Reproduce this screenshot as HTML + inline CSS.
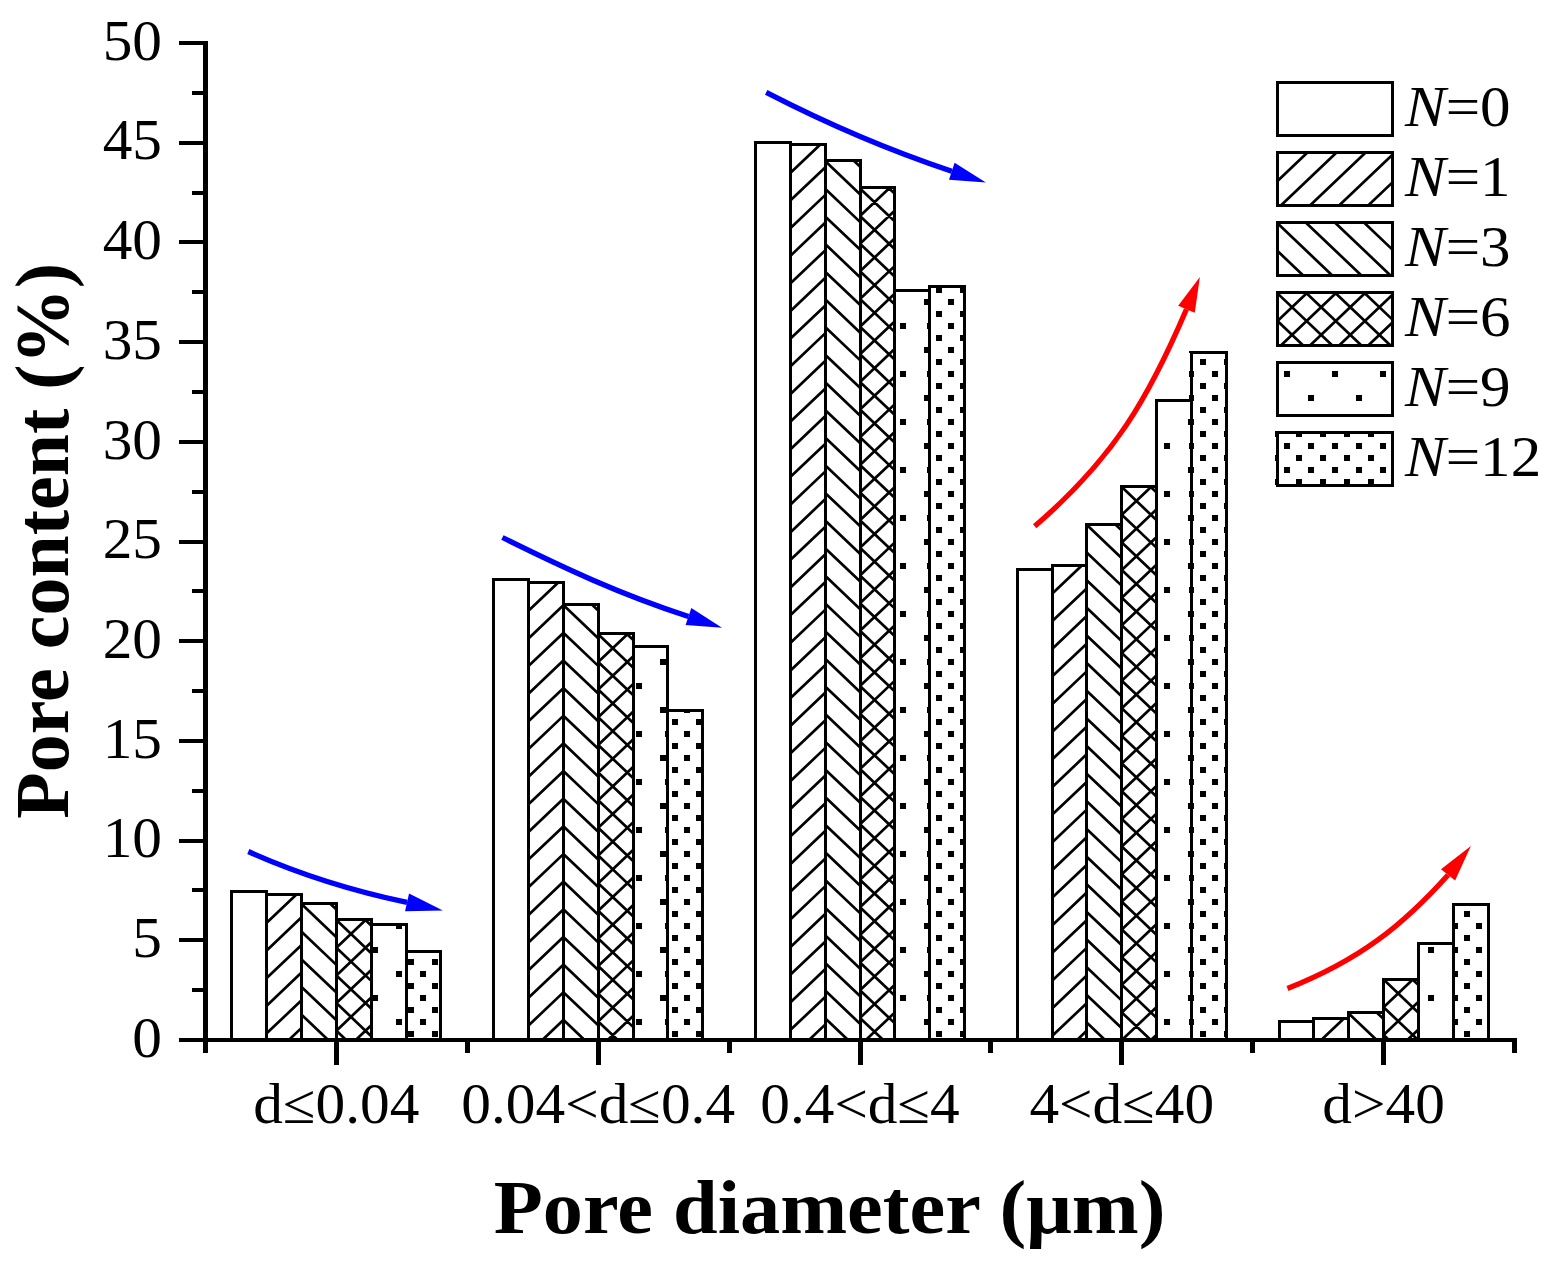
<!DOCTYPE html>
<html><head><meta charset="utf-8"><title>Pore content chart</title>
<style>html,body{margin:0;padding:0;background:#fff;}svg{display:block;}</style>
</head><body>
<svg width="1550" height="1267" viewBox="0 0 1550 1267" shape-rendering="auto">
<rect x="0" y="0" width="1550" height="1267" fill="#fff"/>
<rect x="231.85" y="891.5" width="34.85" height="148.5" fill="#fff"/>
<rect x="266.7" y="894.5" width="34.85" height="145.5" fill="#fff"/>
<path d="M266.7 895.1L267.33 894.5M266.7 922.75L296.44 894.5M266.7 950.4L301.55 917.29M266.7 978.05L301.55 944.94M266.7 1005.7L301.55 972.59M266.7 1033.35L301.55 1000.24M288.81 1040L301.55 1027.89" stroke="#000" stroke-width="2.7" fill="none"/>
<rect x="301.55" y="903.5" width="34.85" height="136.5" fill="#fff"/>
<path d="M330.02 903.5L336.4 909.56M301.55 904.1L336.4 937.21M301.55 931.75L336.4 964.86M301.55 959.4L336.4 992.51M301.55 987.05L336.4 1020.16M301.55 1014.7L328.18 1040" stroke="#000" stroke-width="2.7" fill="none"/>
<rect x="336.4" y="919.5" width="34.85" height="120.5" fill="#fff"/>
<path d="M336.4 920.1L337.03 919.5M336.4 947.75L366.14 919.5M336.4 975.4L371.25 942.29M336.4 1003.05L371.25 969.94M336.4 1030.7L371.25 997.59M355.72 1040L371.25 1025.24M364.87 919.5L371.25 925.56M336.4 920.1L371.25 953.21M336.4 947.75L371.25 980.86M336.4 975.4L371.25 1008.51M336.4 1003.05L371.25 1036.16M336.4 1030.7L346.19 1040" stroke="#000" stroke-width="2.7" fill="none"/>
<rect x="371.25" y="924.5" width="34.85" height="115.5" fill="#fff"/>
<rect x="406.1" y="951.5" width="34.85" height="88.5" fill="#fff"/>
<rect x="493.65" y="579.5" width="34.85" height="460.5" fill="#fff"/>
<rect x="528.5" y="582.5" width="34.85" height="457.5" fill="#fff"/>
<path d="M528.5 583.1L529.13 582.5M528.5 610.75L558.24 582.5M528.5 638.4L563.35 605.29M528.5 666.05L563.35 632.94M528.5 693.7L563.35 660.59M528.5 721.35L563.35 688.24M528.5 749L563.35 715.89M528.5 776.65L563.35 743.54M528.5 804.3L563.35 771.19M528.5 831.95L563.35 798.84M528.5 859.6L563.35 826.49M528.5 887.25L563.35 854.14M528.5 914.9L563.35 881.79M528.5 942.55L563.35 909.44M528.5 970.2L563.35 937.09M528.5 997.85L563.35 964.74M528.5 1025.5L563.35 992.39M542.34 1040L563.35 1020.04" stroke="#000" stroke-width="2.7" fill="none"/>
<rect x="563.35" y="604.5" width="34.85" height="435.5" fill="#fff"/>
<path d="M591.82 604.5L598.2 610.56M563.35 605.1L598.2 638.21M563.35 632.75L598.2 665.86M563.35 660.4L598.2 693.51M563.35 688.05L598.2 721.16M563.35 715.7L598.2 748.81M563.35 743.35L598.2 776.46M563.35 771L598.2 804.11M563.35 798.65L598.2 831.76M563.35 826.3L598.2 859.41M563.35 853.95L598.2 887.06M563.35 881.6L598.2 914.71M563.35 909.25L598.2 942.36M563.35 936.9L598.2 970.01M563.35 964.55L598.2 997.66M563.35 992.2L598.2 1025.31M563.35 1019.85L584.56 1040" stroke="#000" stroke-width="2.7" fill="none"/>
<rect x="598.2" y="633.7" width="34.85" height="406.3" fill="#fff"/>
<path d="M598.2 634.3L598.83 633.7M598.2 661.95L627.94 633.7M598.2 689.6L633.05 656.49M598.2 717.25L633.05 684.14M598.2 744.9L633.05 711.79M598.2 772.55L633.05 739.44M598.2 800.2L633.05 767.09M598.2 827.85L633.05 794.74M598.2 855.5L633.05 822.39M598.2 883.15L633.05 850.04M598.2 910.8L633.05 877.69M598.2 938.45L633.05 905.34M598.2 966.1L633.05 932.99M598.2 993.75L633.05 960.64M598.2 1021.4L633.05 988.29M607.73 1040L633.05 1015.94M626.67 633.7L633.05 639.76M598.2 634.3L633.05 667.41M598.2 661.95L633.05 695.06M598.2 689.6L633.05 722.71M598.2 717.25L633.05 750.36M598.2 744.9L633.05 778.01M598.2 772.55L633.05 805.66M598.2 800.2L633.05 833.31M598.2 827.85L633.05 860.96M598.2 855.5L633.05 888.61M598.2 883.15L633.05 916.26M598.2 910.8L633.05 943.91M598.2 938.45L633.05 971.56M598.2 966.1L633.05 999.21M598.2 993.75L633.05 1026.86M598.2 1021.4L617.78 1040" stroke="#000" stroke-width="2.7" fill="none"/>
<rect x="633.05" y="646.6" width="34.85" height="393.4" fill="#fff"/>
<rect x="667.9" y="710.5" width="34.85" height="329.5" fill="#fff"/>
<rect x="755.45" y="142.6" width="34.85" height="897.4" fill="#fff"/>
<rect x="790.3" y="144.7" width="34.85" height="895.3" fill="#fff"/>
<path d="M790.3 145.3L790.93 144.7M790.3 172.95L820.04 144.7M790.3 200.6L825.15 167.49M790.3 228.25L825.15 195.14M790.3 255.9L825.15 222.79M790.3 283.55L825.15 250.44M790.3 311.2L825.15 278.09M790.3 338.85L825.15 305.74M790.3 366.5L825.15 333.39M790.3 394.15L825.15 361.04M790.3 421.8L825.15 388.69M790.3 449.45L825.15 416.34M790.3 477.1L825.15 443.99M790.3 504.75L825.15 471.64M790.3 532.4L825.15 499.29M790.3 560.05L825.15 526.94M790.3 587.7L825.15 554.59M790.3 615.35L825.15 582.24M790.3 643L825.15 609.89M790.3 670.65L825.15 637.54M790.3 698.3L825.15 665.19M790.3 725.95L825.15 692.84M790.3 753.6L825.15 720.49M790.3 781.25L825.15 748.14M790.3 808.9L825.15 775.79M790.3 836.55L825.15 803.44M790.3 864.2L825.15 831.09M790.3 891.85L825.15 858.74M790.3 919.5L825.15 886.39M790.3 947.15L825.15 914.04M790.3 974.8L825.15 941.69M790.3 1002.45L825.15 969.34M790.3 1030.1L825.15 996.99M808.98 1040L825.15 1024.64" stroke="#000" stroke-width="2.7" fill="none"/>
<rect x="825.15" y="160.5" width="34.85" height="879.5" fill="#fff"/>
<path d="M853.62 160.5L860 166.56M825.15 161.1L860 194.21M825.15 188.75L860 221.86M825.15 216.4L860 249.51M825.15 244.05L860 277.16M825.15 271.7L860 304.81M825.15 299.35L860 332.46M825.15 327L860 360.11M825.15 354.65L860 387.76M825.15 382.3L860 415.41M825.15 409.95L860 443.06M825.15 437.6L860 470.71M825.15 465.25L860 498.36M825.15 492.9L860 526.01M825.15 520.55L860 553.66M825.15 548.2L860 581.31M825.15 575.85L860 608.96M825.15 603.5L860 636.61M825.15 631.15L860 664.26M825.15 658.8L860 691.91M825.15 686.45L860 719.56M825.15 714.1L860 747.21M825.15 741.75L860 774.86M825.15 769.4L860 802.51M825.15 797.05L860 830.16M825.15 824.7L860 857.81M825.15 852.35L860 885.46M825.15 880L860 913.11M825.15 907.65L860 940.76M825.15 935.3L860 968.41M825.15 962.95L860 996.06M825.15 990.6L860 1023.71M825.15 1018.25L848.04 1040" stroke="#000" stroke-width="2.7" fill="none"/>
<rect x="860" y="187.8" width="34.85" height="852.2" fill="#fff"/>
<path d="M860 188.4L860.63 187.8M860 216.05L889.74 187.8M860 243.7L894.85 210.59M860 271.35L894.85 238.24M860 299L894.85 265.89M860 326.65L894.85 293.54M860 354.3L894.85 321.19M860 381.95L894.85 348.84M860 409.6L894.85 376.49M860 437.25L894.85 404.14M860 464.9L894.85 431.79M860 492.55L894.85 459.44M860 520.2L894.85 487.09M860 547.85L894.85 514.74M860 575.5L894.85 542.39M860 603.15L894.85 570.04M860 630.8L894.85 597.69M860 658.45L894.85 625.34M860 686.1L894.85 652.99M860 713.75L894.85 680.64M860 741.4L894.85 708.29M860 769.05L894.85 735.94M860 796.7L894.85 763.59M860 824.35L894.85 791.24M860 852L894.85 818.89M860 879.65L894.85 846.54M860 907.3L894.85 874.19M860 934.95L894.85 901.84M860 962.6L894.85 929.49M860 990.25L894.85 957.14M860 1017.9L894.85 984.79M865.84 1040L894.85 1012.44M888.47 187.8L894.85 193.86M860 188.4L894.85 221.51M860 216.05L894.85 249.16M860 243.7L894.85 276.81M860 271.35L894.85 304.46M860 299L894.85 332.11M860 326.65L894.85 359.76M860 354.3L894.85 387.41M860 381.95L894.85 415.06M860 409.6L894.85 442.71M860 437.25L894.85 470.36M860 464.9L894.85 498.01M860 492.55L894.85 525.66M860 520.2L894.85 553.31M860 547.85L894.85 580.96M860 575.5L894.85 608.61M860 603.15L894.85 636.26M860 630.8L894.85 663.91M860 658.45L894.85 691.56M860 686.1L894.85 719.21M860 713.75L894.85 746.86M860 741.4L894.85 774.51M860 769.05L894.85 802.16M860 796.7L894.85 829.81M860 824.35L894.85 857.46M860 852L894.85 885.11M860 879.65L894.85 912.76M860 907.3L894.85 940.41M860 934.95L894.85 968.06M860 962.6L894.85 995.71M860 990.25L894.85 1023.36M860 1017.9L883.26 1040" stroke="#000" stroke-width="2.7" fill="none"/>
<rect x="894.85" y="290.5" width="34.85" height="749.5" fill="#fff"/>
<rect x="929.7" y="286.8" width="34.85" height="753.2" fill="#fff"/>
<rect x="1017.25" y="569.5" width="34.85" height="470.5" fill="#fff"/>
<rect x="1052.1" y="565.4" width="34.85" height="474.6" fill="#fff"/>
<path d="M1052.1 566L1052.73 565.4M1052.1 593.65L1081.84 565.4M1052.1 621.3L1086.95 588.19M1052.1 648.95L1086.95 615.84M1052.1 676.6L1086.95 643.49M1052.1 704.25L1086.95 671.14M1052.1 731.9L1086.95 698.79M1052.1 759.55L1086.95 726.44M1052.1 787.2L1086.95 754.09M1052.1 814.85L1086.95 781.74M1052.1 842.5L1086.95 809.39M1052.1 870.15L1086.95 837.04M1052.1 897.8L1086.95 864.69M1052.1 925.45L1086.95 892.34M1052.1 953.1L1086.95 919.99M1052.1 980.75L1086.95 947.64M1052.1 1008.4L1086.95 975.29M1052.1 1036.05L1086.95 1002.94M1077.05 1040L1086.95 1030.59" stroke="#000" stroke-width="2.7" fill="none"/>
<rect x="1086.95" y="524.5" width="34.85" height="515.5" fill="#fff"/>
<path d="M1115.42 524.5L1121.8 530.56M1086.95 525.1L1121.8 558.21M1086.95 552.75L1121.8 585.86M1086.95 580.4L1121.8 613.51M1086.95 608.05L1121.8 641.16M1086.95 635.7L1121.8 668.81M1086.95 663.35L1121.8 696.46M1086.95 691L1121.8 724.11M1086.95 718.65L1121.8 751.76M1086.95 746.3L1121.8 779.41M1086.95 773.95L1121.8 807.06M1086.95 801.6L1121.8 834.71M1086.95 829.25L1121.8 862.36M1086.95 856.9L1121.8 890.01M1086.95 884.55L1121.8 917.66M1086.95 912.2L1121.8 945.31M1086.95 939.85L1121.8 972.96M1086.95 967.5L1121.8 1000.61M1086.95 995.15L1121.8 1028.26M1086.95 1022.8L1105.06 1040" stroke="#000" stroke-width="2.7" fill="none"/>
<rect x="1121.8" y="486.5" width="34.85" height="553.5" fill="#fff"/>
<path d="M1121.8 487.1L1122.43 486.5M1121.8 514.75L1151.54 486.5M1121.8 542.4L1156.65 509.29M1121.8 570.05L1156.65 536.94M1121.8 597.7L1156.65 564.59M1121.8 625.35L1156.65 592.24M1121.8 653L1156.65 619.89M1121.8 680.65L1156.65 647.54M1121.8 708.3L1156.65 675.19M1121.8 735.95L1156.65 702.84M1121.8 763.6L1156.65 730.49M1121.8 791.25L1156.65 758.14M1121.8 818.9L1156.65 785.79M1121.8 846.55L1156.65 813.44M1121.8 874.2L1156.65 841.09M1121.8 901.85L1156.65 868.74M1121.8 929.5L1156.65 896.39M1121.8 957.15L1156.65 924.04M1121.8 984.8L1156.65 951.69M1121.8 1012.45L1156.65 979.34M1121.91 1040L1156.65 1006.99M1151.01 1040L1156.65 1034.64M1150.27 486.5L1156.65 492.56M1121.8 487.1L1156.65 520.21M1121.8 514.75L1156.65 547.86M1121.8 542.4L1156.65 575.51M1121.8 570.05L1156.65 603.16M1121.8 597.7L1156.65 630.81M1121.8 625.35L1156.65 658.46M1121.8 653L1156.65 686.11M1121.8 680.65L1156.65 713.76M1121.8 708.3L1156.65 741.41M1121.8 735.95L1156.65 769.06M1121.8 763.6L1156.65 796.71M1121.8 791.25L1156.65 824.36M1121.8 818.9L1156.65 852.01M1121.8 846.55L1156.65 879.66M1121.8 874.2L1156.65 907.31M1121.8 901.85L1156.65 934.96M1121.8 929.5L1156.65 962.61M1121.8 957.15L1156.65 990.26M1121.8 984.8L1156.65 1017.91M1121.8 1012.45L1150.8 1040" stroke="#000" stroke-width="2.7" fill="none"/>
<rect x="1156.65" y="400.6" width="34.85" height="639.4" fill="#fff"/>
<rect x="1191.5" y="352.6" width="34.85" height="687.4" fill="#fff"/>
<rect x="1279.05" y="1021" width="34.85" height="19" fill="#fff"/>
<rect x="1313.9" y="1018.7" width="34.85" height="21.3" fill="#fff"/>
<path d="M1313.9 1019.3L1314.53 1018.7M1321.22 1040L1343.64 1018.7" stroke="#000" stroke-width="2.7" fill="none"/>
<rect x="1348.75" y="1012.9" width="34.85" height="27.1" fill="#fff"/>
<path d="M1377.22 1012.9L1383.6 1018.96M1348.75 1013.5L1376.64 1040" stroke="#000" stroke-width="2.7" fill="none"/>
<rect x="1383.6" y="979" width="34.85" height="61" fill="#fff"/>
<path d="M1383.6 979.6L1384.23 979M1383.6 1007.25L1413.34 979M1383.6 1034.9L1418.45 1001.79M1407.34 1040L1418.45 1029.44M1412.07 979L1418.45 985.06M1383.6 979.6L1418.45 1012.71M1383.6 1007.25L1418.07 1040M1383.6 1034.9L1388.97 1040" stroke="#000" stroke-width="2.7" fill="none"/>
<rect x="1418.45" y="943.7" width="34.85" height="96.3" fill="#fff"/>
<rect x="1453.3" y="904.6" width="34.85" height="135.4" fill="#fff"/>
<g shape-rendering="crispEdges">
<rect x="231.85" y="891.5" width="34.85" height="148.5" fill="none" stroke="#000" stroke-width="3"/>
<rect x="266.7" y="894.5" width="34.85" height="145.5" fill="none" stroke="#000" stroke-width="3"/>
<rect x="301.55" y="903.5" width="34.85" height="136.5" fill="none" stroke="#000" stroke-width="3"/>
<rect x="336.4" y="919.5" width="34.85" height="120.5" fill="none" stroke="#000" stroke-width="3"/>
<rect x="371.25" y="924.5" width="34.85" height="115.5" fill="none" stroke="#000" stroke-width="3"/>
<rect x="406.1" y="951.5" width="34.85" height="88.5" fill="none" stroke="#000" stroke-width="3"/>
<rect x="493.65" y="579.5" width="34.85" height="460.5" fill="none" stroke="#000" stroke-width="3"/>
<rect x="528.5" y="582.5" width="34.85" height="457.5" fill="none" stroke="#000" stroke-width="3"/>
<rect x="563.35" y="604.5" width="34.85" height="435.5" fill="none" stroke="#000" stroke-width="3"/>
<rect x="598.2" y="633.7" width="34.85" height="406.3" fill="none" stroke="#000" stroke-width="3"/>
<rect x="633.05" y="646.6" width="34.85" height="393.4" fill="none" stroke="#000" stroke-width="3"/>
<rect x="667.9" y="710.5" width="34.85" height="329.5" fill="none" stroke="#000" stroke-width="3"/>
<rect x="755.45" y="142.6" width="34.85" height="897.4" fill="none" stroke="#000" stroke-width="3"/>
<rect x="790.3" y="144.7" width="34.85" height="895.3" fill="none" stroke="#000" stroke-width="3"/>
<rect x="825.15" y="160.5" width="34.85" height="879.5" fill="none" stroke="#000" stroke-width="3"/>
<rect x="860" y="187.8" width="34.85" height="852.2" fill="none" stroke="#000" stroke-width="3"/>
<rect x="894.85" y="290.5" width="34.85" height="749.5" fill="none" stroke="#000" stroke-width="3"/>
<rect x="929.7" y="286.8" width="34.85" height="753.2" fill="none" stroke="#000" stroke-width="3"/>
<rect x="1017.25" y="569.5" width="34.85" height="470.5" fill="none" stroke="#000" stroke-width="3"/>
<rect x="1052.1" y="565.4" width="34.85" height="474.6" fill="none" stroke="#000" stroke-width="3"/>
<rect x="1086.95" y="524.5" width="34.85" height="515.5" fill="none" stroke="#000" stroke-width="3"/>
<rect x="1121.8" y="486.5" width="34.85" height="553.5" fill="none" stroke="#000" stroke-width="3"/>
<rect x="1156.65" y="400.6" width="34.85" height="639.4" fill="none" stroke="#000" stroke-width="3"/>
<rect x="1191.5" y="352.6" width="34.85" height="687.4" fill="none" stroke="#000" stroke-width="3"/>
<rect x="1279.05" y="1021" width="34.85" height="19" fill="none" stroke="#000" stroke-width="3"/>
<rect x="1313.9" y="1018.7" width="34.85" height="21.3" fill="none" stroke="#000" stroke-width="3"/>
<rect x="1348.75" y="1012.9" width="34.85" height="27.1" fill="none" stroke="#000" stroke-width="3"/>
<rect x="1383.6" y="979" width="34.85" height="61" fill="none" stroke="#000" stroke-width="3"/>
<rect x="1418.45" y="943.7" width="34.85" height="96.3" fill="none" stroke="#000" stroke-width="3"/>
<rect x="1453.3" y="904.6" width="34.85" height="135.4" fill="none" stroke="#000" stroke-width="3"/>
<path d="M395.97 923.4H401.97V929.4H395.97zM371.96 947.4H377.96V953.4H371.96zM395.97 971.4H401.97V977.4H395.97zM371.96 995.4H377.96V1001.4H371.96zM395.97 1019.4H401.97V1025.4H395.97z" fill="#000" shape-rendering="crispEdges"/>
<path d="M419.97 949.5H425.97V953.4H419.97zM407.97 959.4H413.97V965.4H407.97zM431.98 959.4H437.98V965.4H431.98zM419.97 971.4H425.97V977.4H419.97zM407.97 983.4H413.97V989.4H407.97zM431.98 983.4H437.98V989.4H431.98zM419.97 995.4H425.97V1001.4H419.97zM407.97 1007.4H413.97V1013.4H407.97zM431.98 1007.4H437.98V1013.4H431.98zM419.97 1019.4H425.97V1025.4H419.97zM407.97 1031.4H413.97V1037.4H407.97zM431.98 1031.4H437.98V1037.4H431.98z" fill="#000" shape-rendering="crispEdges"/>
<path d="M660.03 659.4H666.03V665.4H660.03zM636.03 683.4H642.03V689.4H636.03zM660.03 707.4H666.03V713.4H660.03zM636.03 731.4H642.03V737.4H636.03zM660.03 755.4H666.03V761.4H660.03zM636.03 779.4H642.03V785.4H636.03zM660.03 803.4H666.03V809.4H660.03zM636.03 827.4H642.03V833.4H636.03zM660.03 851.4H666.03V857.4H660.03zM636.03 875.4H642.03V881.4H636.03zM660.03 899.4H666.03V905.4H660.03zM636.03 923.4H642.03V929.4H636.03zM660.03 947.4H666.03V953.4H660.03zM636.03 971.4H642.03V977.4H636.03zM660.03 995.4H666.03V1001.4H660.03zM636.03 1019.4H642.03V1025.4H636.03z" fill="#000" shape-rendering="crispEdges"/>
<path d="M664.9 708.5H666.03V713.4H664.9zM684.04 708.5H690.04V713.4H684.04zM672.03 719.4H678.03V725.4H672.03zM696.04 719.4H702.04V725.4H696.04zM664.9 731.4H666.03V737.4H664.9zM684.04 731.4H690.04V737.4H684.04zM672.03 743.4H678.03V749.4H672.03zM696.04 743.4H702.04V749.4H696.04zM664.9 755.4H666.03V761.4H664.9zM684.04 755.4H690.04V761.4H684.04zM672.03 767.4H678.03V773.4H672.03zM696.04 767.4H702.04V773.4H696.04zM664.9 779.4H666.03V785.4H664.9zM684.04 779.4H690.04V785.4H684.04zM672.03 791.4H678.03V797.4H672.03zM696.04 791.4H702.04V797.4H696.04zM664.9 803.4H666.03V809.4H664.9zM684.04 803.4H690.04V809.4H684.04zM672.03 815.4H678.03V821.4H672.03zM696.04 815.4H702.04V821.4H696.04zM664.9 827.4H666.03V833.4H664.9zM684.04 827.4H690.04V833.4H684.04zM672.03 839.4H678.03V845.4H672.03zM696.04 839.4H702.04V845.4H696.04zM664.9 851.4H666.03V857.4H664.9zM684.04 851.4H690.04V857.4H684.04zM672.03 863.4H678.03V869.4H672.03zM696.04 863.4H702.04V869.4H696.04zM664.9 875.4H666.03V881.4H664.9zM684.04 875.4H690.04V881.4H684.04zM672.03 887.4H678.03V893.4H672.03zM696.04 887.4H702.04V893.4H696.04zM664.9 899.4H666.03V905.4H664.9zM684.04 899.4H690.04V905.4H684.04zM672.03 911.4H678.03V917.4H672.03zM696.04 911.4H702.04V917.4H696.04zM664.9 923.4H666.03V929.4H664.9zM684.04 923.4H690.04V929.4H684.04zM672.03 935.4H678.03V941.4H672.03zM696.04 935.4H702.04V941.4H696.04zM664.9 947.4H666.03V953.4H664.9zM684.04 947.4H690.04V953.4H684.04zM672.03 959.4H678.03V965.4H672.03zM696.04 959.4H702.04V965.4H696.04zM664.9 971.4H666.03V977.4H664.9zM684.04 971.4H690.04V977.4H684.04zM672.03 983.4H678.03V989.4H672.03zM696.04 983.4H702.04V989.4H696.04zM664.9 995.4H666.03V1001.4H664.9zM684.04 995.4H690.04V1001.4H684.04zM672.03 1007.4H678.03V1013.4H672.03zM696.04 1007.4H702.04V1013.4H696.04zM664.9 1019.4H666.03V1025.4H664.9zM684.04 1019.4H690.04V1025.4H684.04zM672.03 1031.4H678.03V1037.4H672.03zM696.04 1031.4H702.04V1037.4H696.04z" fill="#000" shape-rendering="crispEdges"/>
<path d="M924.1 299.4H930.1V305.4H924.1zM900.09 323.4H906.09V329.4H900.09zM924.1 347.4H930.1V353.4H924.1zM900.09 371.4H906.09V377.4H900.09zM924.1 395.4H930.1V401.4H924.1zM900.09 419.4H906.09V425.4H900.09zM924.1 443.4H930.1V449.4H924.1zM900.09 467.4H906.09V473.4H900.09zM924.1 491.4H930.1V497.4H924.1zM900.09 515.4H906.09V521.4H900.09zM924.1 539.4H930.1V545.4H924.1zM900.09 563.4H906.09V569.4H900.09zM924.1 587.4H930.1V593.4H924.1zM900.09 611.4H906.09V617.4H900.09zM924.1 635.4H930.1V641.4H924.1zM900.09 659.4H906.09V665.4H900.09zM924.1 683.4H930.1V689.4H924.1zM900.09 707.4H906.09V713.4H900.09zM924.1 731.4H930.1V737.4H924.1zM900.09 755.4H906.09V761.4H900.09zM924.1 779.4H930.1V785.4H924.1zM900.09 803.4H906.09V809.4H900.09zM924.1 827.4H930.1V833.4H924.1zM900.09 851.4H906.09V857.4H900.09zM924.1 875.4H930.1V881.4H924.1zM900.09 899.4H906.09V905.4H900.09zM924.1 923.4H930.1V929.4H924.1zM900.09 947.4H906.09V953.4H900.09zM924.1 971.4H930.1V977.4H924.1zM900.09 995.4H906.09V1001.4H900.09zM924.1 1019.4H930.1V1025.4H924.1z" fill="#000" shape-rendering="crispEdges"/>
<path d="M936.1 287.4H942.1V293.4H936.1zM960.11 287.4H966.05V293.4H960.11zM926.7 299.4H930.1V305.4H926.7zM948.1 299.4H954.1V305.4H948.1zM936.1 311.4H942.1V317.4H936.1zM960.11 311.4H966.05V317.4H960.11zM926.7 323.4H930.1V329.4H926.7zM948.1 323.4H954.1V329.4H948.1zM936.1 335.4H942.1V341.4H936.1zM960.11 335.4H966.05V341.4H960.11zM926.7 347.4H930.1V353.4H926.7zM948.1 347.4H954.1V353.4H948.1zM936.1 359.4H942.1V365.4H936.1zM960.11 359.4H966.05V365.4H960.11zM926.7 371.4H930.1V377.4H926.7zM948.1 371.4H954.1V377.4H948.1zM936.1 383.4H942.1V389.4H936.1zM960.11 383.4H966.05V389.4H960.11zM926.7 395.4H930.1V401.4H926.7zM948.1 395.4H954.1V401.4H948.1zM936.1 407.4H942.1V413.4H936.1zM960.11 407.4H966.05V413.4H960.11zM926.7 419.4H930.1V425.4H926.7zM948.1 419.4H954.1V425.4H948.1zM936.1 431.4H942.1V437.4H936.1zM960.11 431.4H966.05V437.4H960.11zM926.7 443.4H930.1V449.4H926.7zM948.1 443.4H954.1V449.4H948.1zM936.1 455.4H942.1V461.4H936.1zM960.11 455.4H966.05V461.4H960.11zM926.7 467.4H930.1V473.4H926.7zM948.1 467.4H954.1V473.4H948.1zM936.1 479.4H942.1V485.4H936.1zM960.11 479.4H966.05V485.4H960.11zM926.7 491.4H930.1V497.4H926.7zM948.1 491.4H954.1V497.4H948.1zM936.1 503.4H942.1V509.4H936.1zM960.11 503.4H966.05V509.4H960.11zM926.7 515.4H930.1V521.4H926.7zM948.1 515.4H954.1V521.4H948.1zM936.1 527.4H942.1V533.4H936.1zM960.11 527.4H966.05V533.4H960.11zM926.7 539.4H930.1V545.4H926.7zM948.1 539.4H954.1V545.4H948.1zM936.1 551.4H942.1V557.4H936.1zM960.11 551.4H966.05V557.4H960.11zM926.7 563.4H930.1V569.4H926.7zM948.1 563.4H954.1V569.4H948.1zM936.1 575.4H942.1V581.4H936.1zM960.11 575.4H966.05V581.4H960.11zM926.7 587.4H930.1V593.4H926.7zM948.1 587.4H954.1V593.4H948.1zM936.1 599.4H942.1V605.4H936.1zM960.11 599.4H966.05V605.4H960.11zM926.7 611.4H930.1V617.4H926.7zM948.1 611.4H954.1V617.4H948.1zM936.1 623.4H942.1V629.4H936.1zM960.11 623.4H966.05V629.4H960.11zM926.7 635.4H930.1V641.4H926.7zM948.1 635.4H954.1V641.4H948.1zM936.1 647.4H942.1V653.4H936.1zM960.11 647.4H966.05V653.4H960.11zM926.7 659.4H930.1V665.4H926.7zM948.1 659.4H954.1V665.4H948.1zM936.1 671.4H942.1V677.4H936.1zM960.11 671.4H966.05V677.4H960.11zM926.7 683.4H930.1V689.4H926.7zM948.1 683.4H954.1V689.4H948.1zM936.1 695.4H942.1V701.4H936.1zM960.11 695.4H966.05V701.4H960.11zM926.7 707.4H930.1V713.4H926.7zM948.1 707.4H954.1V713.4H948.1zM936.1 719.4H942.1V725.4H936.1zM960.11 719.4H966.05V725.4H960.11zM926.7 731.4H930.1V737.4H926.7zM948.1 731.4H954.1V737.4H948.1zM936.1 743.4H942.1V749.4H936.1zM960.11 743.4H966.05V749.4H960.11zM926.7 755.4H930.1V761.4H926.7zM948.1 755.4H954.1V761.4H948.1zM936.1 767.4H942.1V773.4H936.1zM960.11 767.4H966.05V773.4H960.11zM926.7 779.4H930.1V785.4H926.7zM948.1 779.4H954.1V785.4H948.1zM936.1 791.4H942.1V797.4H936.1zM960.11 791.4H966.05V797.4H960.11zM926.7 803.4H930.1V809.4H926.7zM948.1 803.4H954.1V809.4H948.1zM936.1 815.4H942.1V821.4H936.1zM960.11 815.4H966.05V821.4H960.11zM926.7 827.4H930.1V833.4H926.7zM948.1 827.4H954.1V833.4H948.1zM936.1 839.4H942.1V845.4H936.1zM960.11 839.4H966.05V845.4H960.11zM926.7 851.4H930.1V857.4H926.7zM948.1 851.4H954.1V857.4H948.1zM936.1 863.4H942.1V869.4H936.1zM960.11 863.4H966.05V869.4H960.11zM926.7 875.4H930.1V881.4H926.7zM948.1 875.4H954.1V881.4H948.1zM936.1 887.4H942.1V893.4H936.1zM960.11 887.4H966.05V893.4H960.11zM926.7 899.4H930.1V905.4H926.7zM948.1 899.4H954.1V905.4H948.1zM936.1 911.4H942.1V917.4H936.1zM960.11 911.4H966.05V917.4H960.11zM926.7 923.4H930.1V929.4H926.7zM948.1 923.4H954.1V929.4H948.1zM936.1 935.4H942.1V941.4H936.1zM960.11 935.4H966.05V941.4H960.11zM926.7 947.4H930.1V953.4H926.7zM948.1 947.4H954.1V953.4H948.1zM936.1 959.4H942.1V965.4H936.1zM960.11 959.4H966.05V965.4H960.11zM926.7 971.4H930.1V977.4H926.7zM948.1 971.4H954.1V977.4H948.1zM936.1 983.4H942.1V989.4H936.1zM960.11 983.4H966.05V989.4H960.11zM926.7 995.4H930.1V1001.4H926.7zM948.1 995.4H954.1V1001.4H948.1zM936.1 1007.4H942.1V1013.4H936.1zM960.11 1007.4H966.05V1013.4H960.11zM926.7 1019.4H930.1V1025.4H926.7zM948.1 1019.4H954.1V1025.4H948.1zM936.1 1031.4H942.1V1037.4H936.1zM960.11 1031.4H966.05V1037.4H960.11z" fill="#000" shape-rendering="crispEdges"/>
<path d="M1164.16 398.6H1170.16V401.4H1164.16zM1188.16 419.4H1193V425.4H1188.16zM1164.16 443.4H1170.16V449.4H1164.16zM1188.16 467.4H1193V473.4H1188.16zM1164.16 491.4H1170.16V497.4H1164.16zM1188.16 515.4H1193V521.4H1188.16zM1164.16 539.4H1170.16V545.4H1164.16zM1188.16 563.4H1193V569.4H1188.16zM1164.16 587.4H1170.16V593.4H1164.16zM1188.16 611.4H1193V617.4H1188.16zM1164.16 635.4H1170.16V641.4H1164.16zM1188.16 659.4H1193V665.4H1188.16zM1164.16 683.4H1170.16V689.4H1164.16zM1188.16 707.4H1193V713.4H1188.16zM1164.16 731.4H1170.16V737.4H1164.16zM1188.16 755.4H1193V761.4H1188.16zM1164.16 779.4H1170.16V785.4H1164.16zM1188.16 803.4H1193V809.4H1188.16zM1164.16 827.4H1170.16V833.4H1164.16zM1188.16 851.4H1193V857.4H1188.16zM1164.16 875.4H1170.16V881.4H1164.16zM1188.16 899.4H1193V905.4H1188.16zM1164.16 923.4H1170.16V929.4H1164.16zM1188.16 947.4H1193V953.4H1188.16zM1164.16 971.4H1170.16V977.4H1164.16zM1188.16 995.4H1193V1001.4H1188.16zM1164.16 1019.4H1170.16V1025.4H1164.16z" fill="#000" shape-rendering="crispEdges"/>
<path d="M1188.5 350.6H1194.16V353.4H1188.5zM1212.17 350.6H1218.17V353.4H1212.17zM1200.17 359.4H1206.17V365.4H1200.17zM1224.17 359.4H1227.85V365.4H1224.17zM1188.5 371.4H1194.16V377.4H1188.5zM1212.17 371.4H1218.17V377.4H1212.17zM1200.17 383.4H1206.17V389.4H1200.17zM1224.17 383.4H1227.85V389.4H1224.17zM1188.5 395.4H1194.16V401.4H1188.5zM1212.17 395.4H1218.17V401.4H1212.17zM1200.17 407.4H1206.17V413.4H1200.17zM1224.17 407.4H1227.85V413.4H1224.17zM1188.5 419.4H1194.16V425.4H1188.5zM1212.17 419.4H1218.17V425.4H1212.17zM1200.17 431.4H1206.17V437.4H1200.17zM1224.17 431.4H1227.85V437.4H1224.17zM1188.5 443.4H1194.16V449.4H1188.5zM1212.17 443.4H1218.17V449.4H1212.17zM1200.17 455.4H1206.17V461.4H1200.17zM1224.17 455.4H1227.85V461.4H1224.17zM1188.5 467.4H1194.16V473.4H1188.5zM1212.17 467.4H1218.17V473.4H1212.17zM1200.17 479.4H1206.17V485.4H1200.17zM1224.17 479.4H1227.85V485.4H1224.17zM1188.5 491.4H1194.16V497.4H1188.5zM1212.17 491.4H1218.17V497.4H1212.17zM1200.17 503.4H1206.17V509.4H1200.17zM1224.17 503.4H1227.85V509.4H1224.17zM1188.5 515.4H1194.16V521.4H1188.5zM1212.17 515.4H1218.17V521.4H1212.17zM1200.17 527.4H1206.17V533.4H1200.17zM1224.17 527.4H1227.85V533.4H1224.17zM1188.5 539.4H1194.16V545.4H1188.5zM1212.17 539.4H1218.17V545.4H1212.17zM1200.17 551.4H1206.17V557.4H1200.17zM1224.17 551.4H1227.85V557.4H1224.17zM1188.5 563.4H1194.16V569.4H1188.5zM1212.17 563.4H1218.17V569.4H1212.17zM1200.17 575.4H1206.17V581.4H1200.17zM1224.17 575.4H1227.85V581.4H1224.17zM1188.5 587.4H1194.16V593.4H1188.5zM1212.17 587.4H1218.17V593.4H1212.17zM1200.17 599.4H1206.17V605.4H1200.17zM1224.17 599.4H1227.85V605.4H1224.17zM1188.5 611.4H1194.16V617.4H1188.5zM1212.17 611.4H1218.17V617.4H1212.17zM1200.17 623.4H1206.17V629.4H1200.17zM1224.17 623.4H1227.85V629.4H1224.17zM1188.5 635.4H1194.16V641.4H1188.5zM1212.17 635.4H1218.17V641.4H1212.17zM1200.17 647.4H1206.17V653.4H1200.17zM1224.17 647.4H1227.85V653.4H1224.17zM1188.5 659.4H1194.16V665.4H1188.5zM1212.17 659.4H1218.17V665.4H1212.17zM1200.17 671.4H1206.17V677.4H1200.17zM1224.17 671.4H1227.85V677.4H1224.17zM1188.5 683.4H1194.16V689.4H1188.5zM1212.17 683.4H1218.17V689.4H1212.17zM1200.17 695.4H1206.17V701.4H1200.17zM1224.17 695.4H1227.85V701.4H1224.17zM1188.5 707.4H1194.16V713.4H1188.5zM1212.17 707.4H1218.17V713.4H1212.17zM1200.17 719.4H1206.17V725.4H1200.17zM1224.17 719.4H1227.85V725.4H1224.17zM1188.5 731.4H1194.16V737.4H1188.5zM1212.17 731.4H1218.17V737.4H1212.17zM1200.17 743.4H1206.17V749.4H1200.17zM1224.17 743.4H1227.85V749.4H1224.17zM1188.5 755.4H1194.16V761.4H1188.5zM1212.17 755.4H1218.17V761.4H1212.17zM1200.17 767.4H1206.17V773.4H1200.17zM1224.17 767.4H1227.85V773.4H1224.17zM1188.5 779.4H1194.16V785.4H1188.5zM1212.17 779.4H1218.17V785.4H1212.17zM1200.17 791.4H1206.17V797.4H1200.17zM1224.17 791.4H1227.85V797.4H1224.17zM1188.5 803.4H1194.16V809.4H1188.5zM1212.17 803.4H1218.17V809.4H1212.17zM1200.17 815.4H1206.17V821.4H1200.17zM1224.17 815.4H1227.85V821.4H1224.17zM1188.5 827.4H1194.16V833.4H1188.5zM1212.17 827.4H1218.17V833.4H1212.17zM1200.17 839.4H1206.17V845.4H1200.17zM1224.17 839.4H1227.85V845.4H1224.17zM1188.5 851.4H1194.16V857.4H1188.5zM1212.17 851.4H1218.17V857.4H1212.17zM1200.17 863.4H1206.17V869.4H1200.17zM1224.17 863.4H1227.85V869.4H1224.17zM1188.5 875.4H1194.16V881.4H1188.5zM1212.17 875.4H1218.17V881.4H1212.17zM1200.17 887.4H1206.17V893.4H1200.17zM1224.17 887.4H1227.85V893.4H1224.17zM1188.5 899.4H1194.16V905.4H1188.5zM1212.17 899.4H1218.17V905.4H1212.17zM1200.17 911.4H1206.17V917.4H1200.17zM1224.17 911.4H1227.85V917.4H1224.17zM1188.5 923.4H1194.16V929.4H1188.5zM1212.17 923.4H1218.17V929.4H1212.17zM1200.17 935.4H1206.17V941.4H1200.17zM1224.17 935.4H1227.85V941.4H1224.17zM1188.5 947.4H1194.16V953.4H1188.5zM1212.17 947.4H1218.17V953.4H1212.17zM1200.17 959.4H1206.17V965.4H1200.17zM1224.17 959.4H1227.85V965.4H1224.17zM1188.5 971.4H1194.16V977.4H1188.5zM1212.17 971.4H1218.17V977.4H1212.17zM1200.17 983.4H1206.17V989.4H1200.17zM1224.17 983.4H1227.85V989.4H1224.17zM1188.5 995.4H1194.16V1001.4H1188.5zM1212.17 995.4H1218.17V1001.4H1212.17zM1200.17 1007.4H1206.17V1013.4H1200.17zM1224.17 1007.4H1227.85V1013.4H1224.17zM1188.5 1019.4H1194.16V1025.4H1188.5zM1212.17 1019.4H1218.17V1025.4H1212.17zM1200.17 1031.4H1206.17V1037.4H1200.17zM1224.17 1031.4H1227.85V1037.4H1224.17z" fill="#000" shape-rendering="crispEdges"/>
<path d="M1428.22 947.4H1434.22V953.4H1428.22zM1452.23 971.4H1454.8V977.4H1452.23zM1428.22 995.4H1434.22V1001.4H1428.22zM1452.23 1019.4H1454.8V1025.4H1452.23z" fill="#000" shape-rendering="crispEdges"/>
<path d="M1452.23 902.6H1458.23V905.4H1452.23zM1476.24 902.6H1482.24V905.4H1476.24zM1464.23 911.4H1470.23V917.4H1464.23zM1488.24 911.4H1489.65V917.4H1488.24zM1452.23 923.4H1458.23V929.4H1452.23zM1476.24 923.4H1482.24V929.4H1476.24zM1464.23 935.4H1470.23V941.4H1464.23zM1488.24 935.4H1489.65V941.4H1488.24zM1452.23 947.4H1458.23V953.4H1452.23zM1476.24 947.4H1482.24V953.4H1476.24zM1464.23 959.4H1470.23V965.4H1464.23zM1488.24 959.4H1489.65V965.4H1488.24zM1452.23 971.4H1458.23V977.4H1452.23zM1476.24 971.4H1482.24V977.4H1476.24zM1464.23 983.4H1470.23V989.4H1464.23zM1488.24 983.4H1489.65V989.4H1488.24zM1452.23 995.4H1458.23V1001.4H1452.23zM1476.24 995.4H1482.24V1001.4H1476.24zM1464.23 1007.4H1470.23V1013.4H1464.23zM1488.24 1007.4H1489.65V1013.4H1488.24zM1452.23 1019.4H1458.23V1025.4H1452.23zM1476.24 1019.4H1482.24V1025.4H1476.24zM1464.23 1031.4H1470.23V1037.4H1464.23zM1488.24 1031.4H1489.65V1037.4H1488.24z" fill="#000" shape-rendering="crispEdges"/>
</g>
<g shape-rendering="crispEdges">
<rect x="203" y="41" width="5" height="1012" fill="#000"/>
<rect x="179" y="1038" width="1338" height="4" fill="#000"/>
<rect x="179" y="1038" width="26" height="4" fill="#000"/>
<rect x="179" y="938.3" width="26" height="4" fill="#000"/>
<rect x="179" y="838.6" width="26" height="4" fill="#000"/>
<rect x="179" y="738.9" width="26" height="4" fill="#000"/>
<rect x="179" y="639.2" width="26" height="4" fill="#000"/>
<rect x="179" y="539.5" width="26" height="4" fill="#000"/>
<rect x="179" y="439.8" width="26" height="4" fill="#000"/>
<rect x="179" y="340.1" width="26" height="4" fill="#000"/>
<rect x="179" y="240.4" width="26" height="4" fill="#000"/>
<rect x="179" y="140.7" width="26" height="4" fill="#000"/>
<rect x="179" y="41" width="26" height="4" fill="#000"/>
<rect x="192" y="988.15" width="13" height="4" fill="#000"/>
<rect x="192" y="888.45" width="13" height="4" fill="#000"/>
<rect x="192" y="788.75" width="13" height="4" fill="#000"/>
<rect x="192" y="689.05" width="13" height="4" fill="#000"/>
<rect x="192" y="589.35" width="13" height="4" fill="#000"/>
<rect x="192" y="489.65" width="13" height="4" fill="#000"/>
<rect x="192" y="389.95" width="13" height="4" fill="#000"/>
<rect x="192" y="290.25" width="13" height="4" fill="#000"/>
<rect x="192" y="190.55" width="13" height="4" fill="#000"/>
<rect x="192" y="90.85" width="13" height="4" fill="#000"/>
<rect x="333.9" y="1040" width="5" height="25" fill="#000"/>
<rect x="595.7" y="1040" width="5" height="25" fill="#000"/>
<rect x="857.5" y="1040" width="5" height="25" fill="#000"/>
<rect x="1119.3" y="1040" width="5" height="25" fill="#000"/>
<rect x="1381.1" y="1040" width="5" height="25" fill="#000"/>
<rect x="203" y="1040" width="5" height="13" fill="#000"/>
<rect x="464.8" y="1040" width="5" height="13" fill="#000"/>
<rect x="726.6" y="1040" width="5" height="13" fill="#000"/>
<rect x="988.4" y="1040" width="5" height="13" fill="#000"/>
<rect x="1250.2" y="1040" width="5" height="13" fill="#000"/>
<rect x="1512" y="1040" width="5" height="13" fill="#000"/>
</g>
<text transform="translate(162 1056.7) scale(1.0600 1)" font-family="'Liberation Serif','Times New Roman',serif" font-size="56" text-anchor="end">0</text>
<text transform="translate(162 957) scale(1.0600 1)" font-family="'Liberation Serif','Times New Roman',serif" font-size="56" text-anchor="end">5</text>
<text transform="translate(162 857.3) scale(1.0600 1)" font-family="'Liberation Serif','Times New Roman',serif" font-size="56" text-anchor="end">10</text>
<text transform="translate(162 757.6) scale(1.0600 1)" font-family="'Liberation Serif','Times New Roman',serif" font-size="56" text-anchor="end">15</text>
<text transform="translate(162 657.9) scale(1.0600 1)" font-family="'Liberation Serif','Times New Roman',serif" font-size="56" text-anchor="end">20</text>
<text transform="translate(162 558.2) scale(1.0600 1)" font-family="'Liberation Serif','Times New Roman',serif" font-size="56" text-anchor="end">25</text>
<text transform="translate(162 458.5) scale(1.0600 1)" font-family="'Liberation Serif','Times New Roman',serif" font-size="56" text-anchor="end">30</text>
<text transform="translate(162 358.8) scale(1.0600 1)" font-family="'Liberation Serif','Times New Roman',serif" font-size="56" text-anchor="end">35</text>
<text transform="translate(162 259.1) scale(1.0600 1)" font-family="'Liberation Serif','Times New Roman',serif" font-size="56" text-anchor="end">40</text>
<text transform="translate(162 159.4) scale(1.0600 1)" font-family="'Liberation Serif','Times New Roman',serif" font-size="56" text-anchor="end">45</text>
<text transform="translate(162 59.7) scale(1.0600 1)" font-family="'Liberation Serif','Times New Roman',serif" font-size="56" text-anchor="end">50</text>
<text transform="translate(336.4 1123) scale(1.0600 1)" font-family="'Liberation Serif','Times New Roman',serif" font-size="56" text-anchor="middle">d≤0.04</text>
<text transform="translate(598.2 1123) scale(1.0600 1)" font-family="'Liberation Serif','Times New Roman',serif" font-size="56" text-anchor="middle">0.04&lt;d≤0.4</text>
<text transform="translate(860 1123) scale(1.0600 1)" font-family="'Liberation Serif','Times New Roman',serif" font-size="56" text-anchor="middle">0.4&lt;d≤4</text>
<text transform="translate(1121.8 1123) scale(1.0600 1)" font-family="'Liberation Serif','Times New Roman',serif" font-size="56" text-anchor="middle">4&lt;d≤40</text>
<text transform="translate(1383.6 1123) scale(1.0600 1)" font-family="'Liberation Serif','Times New Roman',serif" font-size="56" text-anchor="middle">d&gt;40</text>
<text transform="translate(829.6 1232.8) scale(1.0575 1)" font-family="'Liberation Serif','Times New Roman',serif" font-size="76" font-weight="bold" text-anchor="middle">Pore diameter (μm)</text>
<text transform="translate(68 540.9) rotate(-90)" font-family="'Liberation Serif','Times New Roman',serif" font-size="76" font-weight="bold" text-anchor="middle">Pore content (%)</text>
<rect x="1277.5" y="82.5" width="114.7" height="52.9" fill="#fff"/>
<rect x="1277.5" y="82.5" width="114.7" height="52.9" fill="none" stroke="#000" stroke-width="3" shape-rendering="crispEdges"/>
<text transform="translate(1405 126) scale(1.0900 1)" font-family="'Liberation Serif','Times New Roman',serif" font-size="56" text-anchor="start"><tspan font-style="italic">N</tspan>=0</text>
<rect x="1277.5" y="152.52" width="114.7" height="52.9" fill="#fff"/>
<path d="M1277.5 153.32L1278.34 152.52M1277.5 180.97L1307.45 152.52M1280.87 205.42L1336.55 152.52M1309.97 205.42L1365.66 152.52M1339.08 205.42L1392.2 154.95M1368.18 205.42L1392.2 182.61" stroke="#000" stroke-width="2.7" fill="none"/>
<rect x="1277.5" y="152.52" width="114.7" height="52.9" fill="none" stroke="#000" stroke-width="3" shape-rendering="crispEdges"/>
<text transform="translate(1405 196.02) scale(1.0900 1)" font-family="'Liberation Serif','Times New Roman',serif" font-size="56" text-anchor="start"><tspan font-style="italic">N</tspan>=1</text>
<rect x="1277.5" y="222.54" width="114.7" height="52.9" fill="#fff"/>
<path d="M1363.97 222.54L1392.2 249.36M1334.87 222.54L1390.55 275.44M1305.76 222.54L1361.45 275.44M1277.5 223.34L1332.34 275.44M1277.5 250.99L1303.24 275.44" stroke="#000" stroke-width="2.7" fill="none"/>
<rect x="1277.5" y="222.54" width="114.7" height="52.9" fill="none" stroke="#000" stroke-width="3" shape-rendering="crispEdges"/>
<text transform="translate(1405 266.04) scale(1.0900 1)" font-family="'Liberation Serif','Times New Roman',serif" font-size="56" text-anchor="start"><tspan font-style="italic">N</tspan>=3</text>
<rect x="1277.5" y="292.56" width="114.7" height="52.9" fill="#fff"/>
<path d="M1277.5 293.36L1278.34 292.56M1277.5 321.01L1307.45 292.56M1280.87 345.46L1336.55 292.56M1309.97 345.46L1365.66 292.56M1339.08 345.46L1392.2 295M1368.18 345.46L1392.2 322.65M1363.97 292.56L1392.2 319.38M1334.87 292.56L1390.55 345.46M1305.76 292.56L1361.45 345.46M1277.5 293.36L1332.34 345.46M1277.5 321.01L1303.24 345.46" stroke="#000" stroke-width="2.7" fill="none"/>
<rect x="1277.5" y="292.56" width="114.7" height="52.9" fill="none" stroke="#000" stroke-width="3" shape-rendering="crispEdges"/>
<text transform="translate(1405 336.06) scale(1.0900 1)" font-family="'Liberation Serif','Times New Roman',serif" font-size="56" text-anchor="start"><tspan font-style="italic">N</tspan>=6</text>
<rect x="1277.5" y="362.58" width="114.7" height="52.9" fill="#fff"/>
<path d="M1284.19 371.4H1290.19V377.4H1284.19zM1332.2 371.4H1338.2V377.4H1332.2zM1380.21 371.4H1386.21V377.4H1380.21zM1308.19 395.4H1314.19V401.4H1308.19zM1356.21 395.4H1362.21V401.4H1356.21z" fill="#000" shape-rendering="crispEdges"/>
<rect x="1277.5" y="362.58" width="114.7" height="52.9" fill="none" stroke="#000" stroke-width="3" shape-rendering="crispEdges"/>
<text transform="translate(1405 406.08) scale(1.0900 1)" font-family="'Liberation Serif','Times New Roman',serif" font-size="56" text-anchor="start"><tspan font-style="italic">N</tspan>=9</text>
<rect x="1277.5" y="432.6" width="114.7" height="52.9" fill="#fff"/>
<path d="M1274.5 431.4H1278.18V437.4H1274.5zM1296.19 431.4H1302.19V437.4H1296.19zM1320.2 431.4H1326.2V437.4H1320.2zM1344.2 431.4H1350.2V437.4H1344.2zM1368.21 431.4H1374.21V437.4H1368.21zM1392.21 431.4H1393.7V437.4H1392.21zM1284.19 443.4H1290.19V449.4H1284.19zM1308.19 443.4H1314.19V449.4H1308.19zM1332.2 443.4H1338.2V449.4H1332.2zM1356.21 443.4H1362.21V449.4H1356.21zM1380.21 443.4H1386.21V449.4H1380.21zM1274.5 455.4H1278.18V461.4H1274.5zM1296.19 455.4H1302.19V461.4H1296.19zM1320.2 455.4H1326.2V461.4H1320.2zM1344.2 455.4H1350.2V461.4H1344.2zM1368.21 455.4H1374.21V461.4H1368.21zM1392.21 455.4H1393.7V461.4H1392.21zM1284.19 467.4H1290.19V473.4H1284.19zM1308.19 467.4H1314.19V473.4H1308.19zM1332.2 467.4H1338.2V473.4H1332.2zM1356.21 467.4H1362.21V473.4H1356.21zM1380.21 467.4H1386.21V473.4H1380.21zM1274.5 479.4H1278.18V485.4H1274.5zM1296.19 479.4H1302.19V485.4H1296.19zM1320.2 479.4H1326.2V485.4H1320.2zM1344.2 479.4H1350.2V485.4H1344.2zM1368.21 479.4H1374.21V485.4H1368.21zM1392.21 479.4H1393.7V485.4H1392.21z" fill="#000" shape-rendering="crispEdges"/>
<rect x="1277.5" y="432.6" width="114.7" height="52.9" fill="none" stroke="#000" stroke-width="3" shape-rendering="crispEdges"/>
<text transform="translate(1405 476.1) scale(1.0900 1)" font-family="'Liberation Serif','Times New Roman',serif" font-size="56" text-anchor="start"><tspan font-style="italic">N</tspan>=12</text>
<path d="M248.3 851.5C295.1 872.46 345.57 889.33 407.05 902.35" stroke="#0000ff" stroke-width="5.3" fill="none"/>
<path d="M442.9 910.5L405.05 911.13L409.05 893.57z" fill="#0000ff"/>
<path d="M502.4 537.5C563.94 567.97 619.15 593.9 688.45 616.45" stroke="#0000ff" stroke-width="5.3" fill="none"/>
<path d="M722 627.7L685.59 624.98L691.31 607.92z" fill="#0000ff"/>
<path d="M766.2 92.45C829.11 124.89 884.96 149.09 951.8 171.3" stroke="#0000ff" stroke-width="5.3" fill="none"/>
<path d="M985.9 182.4L949.01 179.86L954.59 162.74z" fill="#0000ff"/>
<path d="M1034.7 526.25C1114.85 457.18 1148.86 397.31 1186.45 309.25" stroke="#ff0000" stroke-width="5.3" fill="none"/>
<path d="M1199.9 276.9L1194.76 312.71L1178.14 305.79z" fill="#ff0000"/>
<path d="M1287.5 988.5C1359.96 959.8 1402.68 925.47 1448.05 874.95" stroke="#ff0000" stroke-width="5.3" fill="none"/>
<path d="M1470.9 846.1L1455.11 880.54L1440.99 869.36z" fill="#ff0000"/>
</svg>
</body></html>
